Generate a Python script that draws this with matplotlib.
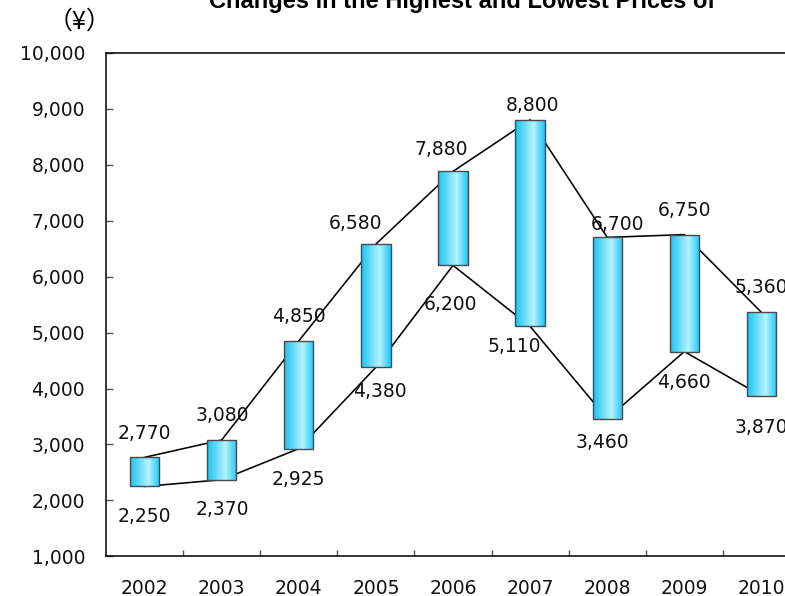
import numpy as np
import matplotlib
matplotlib.use("Agg")
import matplotlib.pyplot as plt
from matplotlib.colors import LinearSegmentedColormap
from matplotlib.ticker import FuncFormatter, FixedLocator

# Yearly price range (yen)
years = ["2002", "2003", "2004", "2005", "2006", "2007", "2008", "2009", "2010"]
highs = [2770, 3080, 4850, 6580, 7880, 8800, 6700, 6750, 5360]
lows = [2250, 2370, 2925, 4380, 6200, 5110, 3460, 4660, 3870]

title = "Changes in the Highest and Lowest Prices of"
unit_label = "（¥）"

# label nudges in pixels (dx right, dy up) relative to the bar end
high_offsets = [(0, 25), (1, 26), (0, 26), (-20, 22), (-12, 23.5),
                (2.5, 15.5), (10, 14), (0, 25.5), (0, 26)]
low_offsets = [(0, -29), (1, -28.5), (0, -29.5), (4, -23), (-2, -37.5),
               (-15.5, -18.5), (-5, -22.5), (0, -29.5), (0, -30)]

DPI = 100
PX = 72.0 / DPI  # points per pixel
FS = 13.5

fig = plt.figure(figsize=(7.85, 5.96), dpi=DPI)
W, H = 785.0, 596.0
ax = fig.add_axes([106 / W, 1 - 556.4 / H, 694 / W, (556.4 - 52.7) / H])

x = np.arange(len(years))

# connecting lines for highs and lows
ax.plot(x, highs, color="black", lw=1.15, zorder=2, solid_joinstyle="miter")
ax.plot(x, lows, color="black", lw=1.15, zorder=2, solid_joinstyle="miter")

# range bars with a horizontal cyan gradient
cmap = LinearSegmentedColormap.from_list(
    "cyan_grad", [(0.0, "#17c2f2"), (0.62, "#b6f3ff"), (1.0, "#1cc6fb")])
grad = np.linspace(0, 1, 256).reshape(1, -1)
heights = [h - l for h, l in zip(highs, lows)]
bars = ax.bar(x, heights, bottom=lows, width=0.38, facecolor="none",
              edgecolor="#4a4a4a", linewidth=1.0, zorder=4)
for patch in bars.patches:
    x0, y0 = patch.get_x(), patch.get_y()
    im = ax.imshow(grad, cmap=cmap, aspect="auto", interpolation="bilinear",
                   extent=(x0, x0 + patch.get_width(), y0, y0 + patch.get_height()),
                   zorder=3)
    im.set_clip_path(patch)

# value labels
em = FS / PX  # em size in px
base_shift = 0.365 * em  # digit centre above baseline
for i in range(len(years)):
    dx, dy = high_offsets[i]
    ax.annotate(f"{highs[i]:,}", xy=(x[i], highs[i]),
                xytext=(dx * PX, (dy - base_shift) * PX), textcoords="offset points",
                ha="center", va="baseline", fontsize=FS, color="#111111",
                zorder=5, annotation_clip=False)
    dx, dy = low_offsets[i]
    ax.annotate(f"{lows[i]:,}", xy=(x[i], lows[i]),
                xytext=(dx * PX, (dy - base_shift) * PX), textcoords="offset points",
                ha="center", va="baseline", fontsize=FS, color="#111111",
                zorder=5, annotation_clip=False)

ax.set_xlim(-0.5, len(years) - 0.5)
ax.set_ylim(1000, 10000)

ax.set_yticks(np.arange(1000, 10001, 1000))
ax.yaxis.set_major_formatter(FuncFormatter(lambda v, p: f"{int(v):,}"))
ax.tick_params(axis="y", direction="in", length=5, width=1, color="#555555",
               pad=15, labelsize=FS, labelcolor="#111111")

ax.set_xticks(x)
ax.set_xticklabels(years)
ax.xaxis.set_minor_locator(FixedLocator(np.arange(0.5, len(years) - 0.5, 1.0)))
ax.tick_params(axis="x", which="major", length=0, pad=16.5, labelsize=FS,
               labelcolor="#111111")
ax.tick_params(axis="x", which="minor", direction="in", length=4.5, width=1,
               color="#555555")

for side in ("left", "bottom", "top", "right"):
    ax.spines[side].set_linewidth(1.1)
    ax.spines[side].set_color("black")

fig.text(462.5 / W, 1 - 8 / H, title, ha="center", va="baseline",
         fontsize=17, fontweight="bold", family="Liberation Sans")
fig.text(80 / W, 1 - 22 / H, unit_label, ha="center", va="center",
         fontsize=18, family=["Noto Sans CJK JP", "DejaVu Sans"])

fig.savefig("out.png", dpi=DPI)
